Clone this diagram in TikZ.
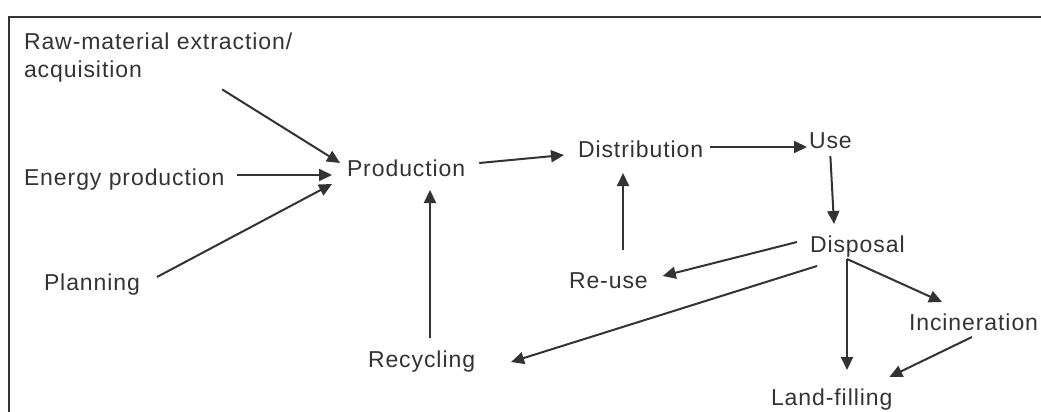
\documentclass[tikz,border=0pt]{standalone}
\usepackage{fontspec}
\setmainfont[LetterSpace=4]{Liberation Sans}
\usepackage{tikz}
\usetikzlibrary{arrows.meta}

\begin{document}
\begin{tikzpicture}[->,>={Triangle[length=13pt,width=12pt]},x=1pt,y=-1pt,
                    line width=2pt,color=black!80]
  \tikzstyle{every node}=[inner sep=0pt,anchor=base west,
                          font=\fontsize{23}{28}\selectfont]

  \useasboundingbox (0,0) rectangle (1041,412);
  \draw[-] (9,412) |- (1041,17); % frame

  \node (raw) [anchor=north west,align=left] at (23,32) {Raw-material extraction/\\acquisition};
  \node (energy)   at (23,185)  {Energy production};
  \node (planning) at (43,290)  {Planning};
  \node (prod)     at (346,176) {Production};
  \node (dist)     at (577,157) {Distribution};
  \node (use)      at (808,148) {Use};
  \node (disposal) at (809,252) {Disposal};
  \node (reuse)    at (568,288) {Re-use};
  \node (recycl)   at (367,367) {Recycling};
  \node (incin)    at (908,330) {Incineration};
  \node (landfill) at (770,405) {Land-filling};

  % inputs to production
  \path ([shift={(-71,6)}]raw.south east)      edge ([shift={(-6,-13)}]prod.base west)
        ([shift={(12,-10)}]energy.base east)   edge ([shift={(-14,-1)}]prod.base west)
        ([shift={(16,-13)}]planning.base east) edge ([shift={(-14,8)}]prod.base west);

  % main chain
  \path ([shift={(13,-13)}]prod.base east)     edge ([shift={(-13,-2)}]dist.base west)
        ([shift={(6,-10)}]dist.base east)      edge ([shift={(-1,-1)}]use.base west)
        ([shift={(0,8)}]use.base)              edge ([shift={(25,-28)}]disposal.base west);

  % after disposal
  \path ([shift={(-12,-10)}]disposal.base west) edge ([shift={(14,-12)}]reuse.base east)
        ([shift={(8,14)}]disposal.base west)    edge ([shift={(35,-5)}]recycl.base east)
        ([shift={(38,7)}]disposal.base west)    edge ([shift={(77,-35)}]landfill.base west)
        ([shift={(38,7)}]disposal.base west)    edge ([shift={(34,-28)}]incin.base west)
        ([shift={(64,7)}]incin.base west)       edge ([shift={(-4,-28)}]landfill.base east);

  % loops back
  \path ([shift={(55,-38)}]reuse.base west)  edge ([shift={(46,16)}]dist.base west)
        ([shift={(63,-29)}]recycl.base west) edge ([shift={(84,14)}]prod.base west);
\end{tikzpicture}
\end{document}
